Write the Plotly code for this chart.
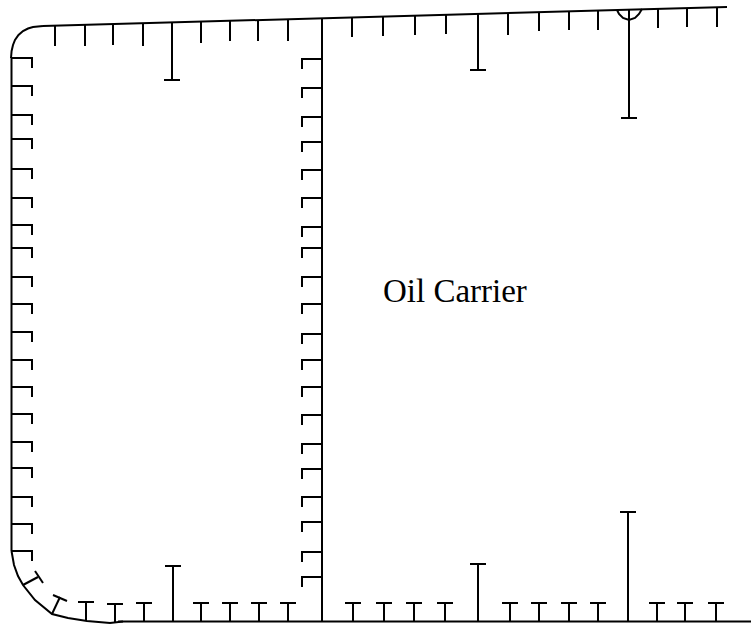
import plotly.graph_objects as go

# Hull outline (x, y in drawing units, y downward)
deck_x = [43, 727]
deck_y = [26, 7]
corner_x = [11, 11.6, 13, 15, 18.5, 23, 28, 33, 43]
corner_y = [58, 51, 45, 40, 35, 31, 28.5, 27, 26]
side_x = [11.5, 11.5]
side_y = [58, 551]
bilge_x = [11.5, 14, 18, 23, 35, 52, 68, 87, 110, 123]
bilge_y = [551, 565, 576, 585, 600, 614, 618, 621, 623, 621.5]
bottom_x = [118, 751]
bottom_y = [621.5, 621.5]
bulkhead_x = [322, 322]
bulkhead_y = [18, 621.5]

# Deck stiffeners
deck_tick_x = [55, 85, 113, 143, 201, 230, 258, 288, 352, 383, 415, 446, 508, 539, 569, 598, 658, 687, 717]
deck_tick_root = [25.7, 24.8, 24, 23.2, 21.6, 20.8, 20, 19.2, 17.4, 16.6, 15.7, 14.8, 13.1, 12.2, 11.4, 10.6, 8.9, 8.1, 7.3]
deck_tick_end = [46, 46, 45, 46, 43, 41, 41, 41, 37, 36, 35, 34, 35, 31, 30, 30, 28, 27, 27]

# Deck girders
girder_x = [172, 478, 629]
girder_root = [22.4, 13.9, 9.7]
girder_end = [80, 70, 118]

# Bottom stiffeners
bottom_tick_x = [86, 115, 144, 201, 230, 259, 288, 353, 384, 414, 445, 510, 539, 569, 598, 657, 685, 716]
bottom_tick_root = [621, 622, 621.5, 621.5, 621.5, 621.5, 621.5, 621.5, 621.5, 621.5, 621.5, 621.5, 621.5, 621.5, 621.5, 621.5, 621.5, 621.5]
bottom_tick_end = [602, 604, 603, 603, 603, 603, 603, 603, 603, 603, 603, 603, 603, 603, 603, 603, 603, 603]

# Bottom girders
floor_x = [173, 478, 628]
floor_end = [566, 564, 512]

# Longitudinals on the side shell and the bulkhead
left_long_y = [58, 86, 115, 139, 169, 198, 225, 248, 277, 304, 332, 360, 387, 414, 442, 468, 497, 524, 551]
right_long_y = [59, 88, 117, 142, 170, 198, 227, 248, 277, 304, 334, 360, 387, 415, 444, 469, 497, 522, 552, 577]

# Bilge stiffeners: web (root -> toe) and flange
bilge_web_x = [[23, 38], [52, 60]]
bilge_web_y = [[585, 577], [614, 597]]
bilge_flange_x = [[35, 43], [53, 67]]
bilge_flange_y = [[571, 583], [595, 601]]

# Scallop around the girder at the deck
scallop_x = [617, 619, 623, 629, 635, 639, 642]
scallop_y = [10, 14, 18, 20, 18, 14, 9]

label_text = "Oil Carrier"

FLANGE_TICK = 8
LW = 2
xs, ys = [], []


def seg(x, y):
    xs.extend(list(x) + [None])
    ys.extend(list(y) + [None])


for cx, cy in [(deck_x, deck_y), (corner_x, corner_y), (side_x, side_y), (bilge_x, bilge_y),
               (bottom_x, bottom_y), (bulkhead_x, bulkhead_y), (scallop_x, scallop_y)]:
    seg(cx, cy)
for x, r, e in zip(deck_tick_x, deck_tick_root, deck_tick_end):
    seg([x, x], [r, e])
for x, r, e in zip(girder_x, girder_root, girder_end):
    seg([x, x], [r, e])
    seg([x - FLANGE_TICK, x + FLANGE_TICK], [e, e])
for x, r, e in zip(bottom_tick_x, bottom_tick_root, bottom_tick_end):
    seg([x, x], [r, e])
    seg([x - FLANGE_TICK, x + FLANGE_TICK], [e, e])
for x, e in zip(floor_x, floor_end):
    seg([x, x], [621.5, e])
    seg([x - FLANGE_TICK, x + FLANGE_TICK], [e, e])
for y in left_long_y:
    seg([11.5, 32, 32], [y, y, y + 10])
for y in right_long_y:
    seg([322, 302, 302], [y, y, y + 10])
for wx, wy in zip(bilge_web_x, bilge_web_y):
    seg(wx, wy)
for fx, fy in zip(bilge_flange_x, bilge_flange_y):
    seg(fx, fy)

fig = go.Figure()
fig.add_trace(go.Scatter(x=xs, y=ys, mode="lines", line=dict(color="black", width=LW),
                         hoverinfo="skip", showlegend=False))
fig.add_annotation(x=381, y=291, text=label_text, showarrow=False, xanchor="left", yanchor="middle",
                   font=dict(family="Liberation Serif", size=33, color="black"))
fig.update_layout(width=751, height=630, margin=dict(l=0, r=0, t=0, b=0),
                  plot_bgcolor="white", paper_bgcolor="white", showlegend=False,
                  xaxis=dict(range=[0, 751], visible=False, fixedrange=True),
                  yaxis=dict(range=[630, 0], visible=False, fixedrange=True))
fig.write_html("out.html", config={"displayModeBar": False},
               post_script="document.body.style.margin='0';")
